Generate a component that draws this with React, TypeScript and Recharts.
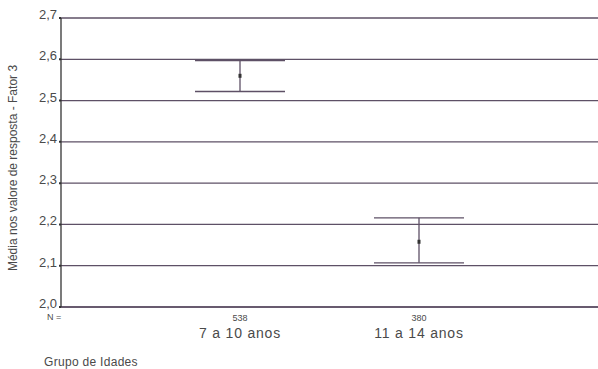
import React from 'react';
import {
  ComposedChart,
  Scatter,
  ErrorBar,
  XAxis,
  YAxis,
  CartesianGrid,
} from 'recharts';

// values
const categories = ['7 a 10 anos', '11 a 14 anos'];
const groupPositions = [1, 2];
const nValues = [538, 380];
const means = [2.56, 2.158];
const lowerBounds = [2.522, 2.107];
const upperBounds = [2.597, 2.216];
const yTicks = [2.0, 2.1, 2.2, 2.3, 2.4, 2.5, 2.6, 2.7];

const data = categories.map((name, i) => ({
  name,
  x: groupPositions[i],
  n: nValues[i],
  mean: means[i],
  err: [means[i] - lowerBounds[i], upperBounds[i] - means[i]],
}));

const lineColor = '#5e5066';
const textColor = '#4a4a4a';
const font = '"Liberation Sans", Arial, sans-serif';

const XTick = (props: any) => {
  const { x, y, payload } = props;
  const idx = groupPositions.indexOf(payload.value);
  if (idx < 0) return null;
  return (
    <g>
      <text x={x} y={y + 6} textAnchor="middle" fontSize={9} fill={textColor} fontFamily={font}>
        {nValues[idx]}
      </text>
      <text
        x={x}
        y={y + 23}
        textAnchor="middle"
        fontSize={14}
        letterSpacing={0.8}
        fill={textColor}
        fontFamily={font}
      >
        {categories[idx]}
      </text>
    </g>
  );
};

const YTick = (props: any) => {
  const { x, y, payload } = props;
  return (
    <text x={x} y={y + 1} textAnchor="end" fontSize={13} fill={textColor} fontFamily={font}>
      {Number(payload.value).toFixed(1).replace('.', ',')}
    </text>
  );
};

const MeanDot = (props: any) => {
  const { cx, cy } = props;
  return <rect x={cx - 1.5} y={cy - 2} width={3} height={4} fill="#333" />;
};

export default function App() {
  return (
    <div style={{ position: 'absolute', left: 0, top: 0, width: 598, height: 369, background: '#fff' }}>
      <ComposedChart
        width={598}
        height={369}
        data={data}
        margin={{ top: 18, right: 0, bottom: 0, left: 0 }}
      >
        <CartesianGrid vertical={false} stroke={lineColor} strokeWidth={1.3} />
        <XAxis
          dataKey="x"
          type="number"
          domain={[0, 3]}
          ticks={groupPositions}
          tickLine={false}
          axisLine={{ stroke: lineColor, strokeWidth: 1.3 }}
          tick={<XTick />}
          height={62}
          interval={0}
        />
        <YAxis
          type="number"
          domain={[2.0, 2.7]}
          ticks={yTicks}
          width={61}
          tickSize={2}
          tickLine={{ stroke: '#333', strokeWidth: 2 }}
          axisLine={{ stroke: '#333', strokeWidth: 1.3 }}
          tick={<YTick />}
          interval={0}
        />
        <Scatter dataKey="mean" shape={<MeanDot />} isAnimationActive={false}>
          <ErrorBar dataKey="err" direction="y" width={45} stroke={lineColor} strokeWidth={1.3} />
        </Scatter>
        <text x={47} y={320} fontSize={9} fill={textColor} fontFamily={font}>
          N =
        </text>
        <text
          x={17}
          y={168}
          textAnchor="middle"
          fontSize={12}
          fill={textColor}
          fontFamily={font}
          transform="rotate(-90 17 168)"
        >
          Média nos valore de resposta - Fator 3
        </text>
        <text x={44} y={366} fontSize={12} letterSpacing={0.3} fill={textColor} fontFamily={font}>
          Grupo de Idades
        </text>
      </ComposedChart>
    </div>
  );
}
